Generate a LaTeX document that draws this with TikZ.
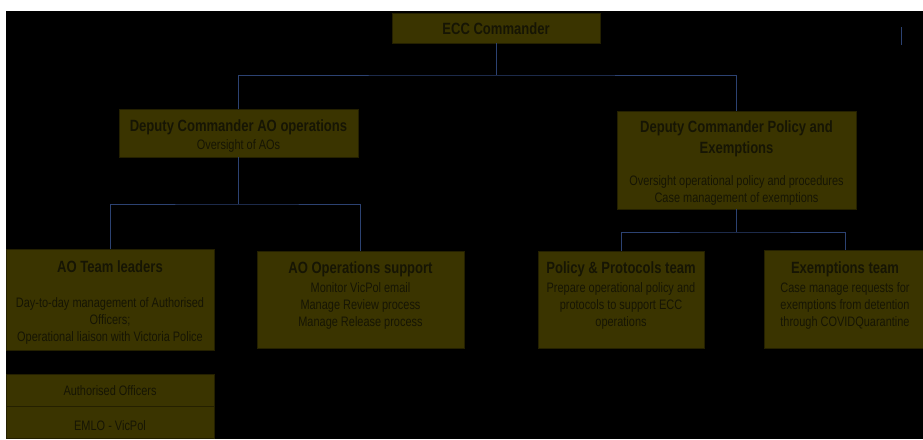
\documentclass[tikz,border=0pt]{standalone}
\usepackage{fontspec}
\setmainfont{Liberation Sans}[FakeStretch=0.8]
\definecolor{boxfill}{RGB}{58,52,0}
\definecolor{boxline}{RGB}{36,32,0}
\definecolor{txt}{RGB}{22,21,4}
\definecolor{conn}{RGB}{44,66,114}
\newcommand\ttlfont{\fontsize{16.3}{21}\selectfont\bfseries}
\newcommand\bodyfont{\fontsize{13.7}{17.2}\selectfont}
\begin{document}
\begin{tikzpicture}[x=1pt,y=-1pt,
  orgbox/.style={draw=boxline, line width=0.8pt, fill=boxfill, inner sep=0pt},
  ttl/.style={anchor=north, inner sep=0pt, text=txt, font=\ttlfont, align=center},
  bdy/.style={anchor=north, inner sep=0pt, text=txt, font=\bodyfont, align=center},
  link/.style={draw=conn, line width=1pt}]
\useasboundingbox (0,0) rectangle (923,439);
\clip (0,0) rectangle (923,439);
\fill[white] (0,0) rectangle (923,439);
\fill[black] (6,11) rectangle (923,439);

% boxes
\node[orgbox, minimum width=208pt, minimum height=30pt] (ecc) at (496,28) {};
\node[orgbox, minimum width=239pt, minimum height=48pt] (dao) at (238.5,133) {};
\node[orgbox, minimum width=239pt, minimum height=98pt] (dpol) at (736.5,160) {};
\node[orgbox, minimum width=208pt, minimum height=101pt] (aotl) at (110,299.5) {};
\node[orgbox, minimum width=207pt, minimum height=97pt] (aoops) at (360.5,299.5) {};
\node[orgbox, minimum width=166pt, minimum height=97pt] (pp) at (621,299.5) {};
\node[orgbox, minimum width=162pt, minimum height=98pt] (ex) at (845,299) {};
\node[orgbox, minimum width=208pt, minimum height=32pt] (ao) at (110,390) {};
\node[orgbox, minimum width=208pt, minimum height=32pt] (emlo) at (110,422) {};

% connectors
\coordinate (j1) at (496,75);
\coordinate (j2) at (238.5,204);
\coordinate (j3) at (736.5,232);
\draw[link] (ecc.south) -- (j1);
\draw[link] (dao.north) |- (j1) -| (dpol.north);
\draw[link] (dao.south) -- (j2);
\draw[link] (aotl.north) |- (j2) -| (aoops.north);
\draw[link] (dpol.south) -- (j3);
\draw[link] (pp.north) |- (j3) -| (ex.north);
\coordinate (m1) at (901,27);
\coordinate (m2) at (901,45);
\draw[link] (m1) -- (m2);

% texts
\node[ttl] (ecct) at (496,22) {ECC Commander};
\node[ttl] (daot) at (238.5,119) {Deputy Commander AO operations};
\node[bdy] (daob) at (238.5,139) {Oversight of AOs};
\node[ttl] (dpolt) at (736.5,120) {Deputy Commander Policy and\\Exemptions};
\node[bdy] (dpolb) at (736.5,175) {Oversight operational policy and procedures\\Case management  of exemptions};
\node[ttl] (aotlt) at (110,260) {AO Team leaders};
\node[bdy] (aotlb) at (110,297) {Day-to-day management  of Authorised\\Officers;\\Operational liaison with Victoria Police};
\node[ttl] (aoopst) at (360.5,261) {AO Operations support};
\node[bdy] (aoopsb) at (360.5,282) {Monitor VicPol email\\Manage Review process\\Manage Release process};
\node[ttl] (ppt) at (621,261) {Policy \& Protocols team};
\node[bdy] (ppb) at (621,282) {Prepare operational policy and\\protocols to support ECC\\operations};
\node[ttl] (ext) at (845,261) {Exemptions team};
\node[bdy] (exb) at (845,282) {Case manage requests for\\exemptions from detention\\through COVIDQuarantine};
\node[bdy] (aot) at (110,385) {Authorised Officers};
\node[bdy] (emlot) at (110,420) {EMLO - VicPol};
\end{tikzpicture}
\end{document}
